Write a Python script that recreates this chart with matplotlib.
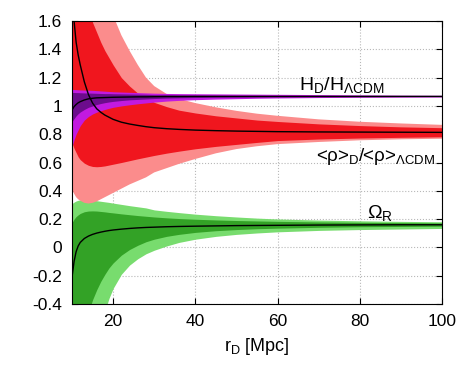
import numpy as np
import matplotlib
matplotlib.use('Agg')
from matplotlib import pyplot as plt
from matplotlib.ticker import FuncFormatter

plt.rcParams['font.family'] = ['Liberation Sans', 'DejaVu Sans']
plt.rcParams['mathtext.fontset'] = 'custom'
plt.rcParams['mathtext.rm'] = 'Liberation Sans'
plt.rcParams['mathtext.it'] = 'Liberation Sans:italic'
plt.rcParams['axes.unicode_minus'] = False

# domain size r_D [Mpc]
r = [10, 10.5, 11, 11.5, 12, 13, 14, 15, 16, 17, 18, 19, 20, 22, 24, 26, 28, 30,
     33, 36, 40, 45, 50, 55, 60, 70, 80, 90, 100]

# <rho>_D / <rho>_LCDM : median, 1 and 2 sigma
rho_mid = [1.85, 1.60, 1.45, 1.36, 1.29, 1.17, 1.08, 1.02, 0.98, 0.955, 0.935, 0.92, 0.905,
           0.885, 0.872, 0.862, 0.853, 0.846, 0.839, 0.834, 0.829, 0.825, 0.822, 0.82,
           0.818, 0.816, 0.815, 0.814, 0.813]
rho_hi1 = [2.6, 2.45, 2.3, 2.18, 2.06, 1.80, 1.68, 1.59, 1.52, 1.45, 1.39, 1.34, 1.29,
           1.20, 1.14, 1.09, 1.055, 1.025, 0.995, 0.97, 0.95, 0.93, 0.915, 0.90, 0.89,
           0.873, 0.861, 0.852, 0.846]
rho_lo1 = [0.74, 0.70, 0.67, 0.64, 0.62, 0.595, 0.58, 0.572, 0.57, 0.572, 0.576, 0.582,
           0.588, 0.60, 0.613, 0.626, 0.638, 0.65, 0.666, 0.68, 0.697, 0.714, 0.728,
           0.742, 0.755, 0.766, 0.773, 0.778, 0.782]
rho_hi2 = [3.6, 3.4, 3.2, 3.0, 2.85, 2.6, 2.4, 2.2, 2.05, 1.92, 1.82, 1.72, 1.64, 1.50,
           1.39, 1.29, 1.20, 1.14, 1.085, 1.05, 1.02, 0.99, 0.965, 0.945, 0.93, 0.905,
           0.888, 0.876, 0.866]
rho_lo2 = [0.41, 0.38, 0.355, 0.34, 0.33, 0.315, 0.31, 0.315, 0.325, 0.34, 0.355, 0.37,
           0.385, 0.415, 0.445, 0.47, 0.495, 0.53, 0.56, 0.59, 0.625, 0.665, 0.695,
           0.715, 0.73, 0.745, 0.757, 0.764, 0.768]

# H_D / H_LCDM
h_mid = [0.97, 0.995, 1.01, 1.022, 1.03, 1.042, 1.05, 1.054, 1.057, 1.058, 1.059, 1.06,
         1.061, 1.062, 1.063, 1.064, 1.064, 1.065, 1.066, 1.066, 1.067, 1.067, 1.067,
         1.067, 1.067, 1.067, 1.067, 1.067, 1.067]
h_hi1 = [1.095, 1.095, 1.094, 1.094, 1.093, 1.092, 1.091, 1.09, 1.089, 1.088, 1.087,
         1.087, 1.086, 1.085, 1.084, 1.083, 1.082, 1.08, 1.079, 1.078, 1.076, 1.075,
         1.074, 1.074, 1.073, 1.072, 1.072, 1.071, 1.071]
h_lo1 = [0.89, 0.91, 0.93, 0.945, 0.957, 0.975, 0.99, 1.0, 1.01, 1.017, 1.023, 1.028,
         1.032, 1.038, 1.043, 1.046, 1.049, 1.052, 1.055, 1.057, 1.059, 1.061, 1.062,
         1.063, 1.064, 1.065, 1.065, 1.066, 1.066]
h_hi2 = [1.117, 1.116, 1.115, 1.114, 1.113, 1.112, 1.111, 1.11, 1.108, 1.106, 1.104,
         1.102, 1.10, 1.098, 1.096, 1.094, 1.092, 1.09, 1.088, 1.087, 1.086, 1.085,
         1.084, 1.083, 1.082, 1.08, 1.078, 1.076, 1.075]
h_lo2 = [0.71, 0.76, 0.80, 0.83, 0.86, 0.90, 0.925, 0.943, 0.956, 0.966, 0.975, 0.983,
         0.99, 1.0, 1.008, 1.015, 1.021, 1.027, 1.034, 1.039, 1.044, 1.048, 1.051,
         1.054, 1.056, 1.059, 1.061, 1.062, 1.063]

# Omega_R
om_mid = [-0.21, -0.10, -0.03, 0.01, 0.035, 0.063, 0.08, 0.092, 0.101, 0.108, 0.114,
          0.119, 0.123, 0.129, 0.134, 0.138, 0.141, 0.143, 0.146, 0.148, 0.15, 0.152,
          0.154, 0.155, 0.156, 0.158, 0.159, 0.16, 0.16]
om_hi1 = [0.175, 0.20, 0.218, 0.23, 0.24, 0.252, 0.257, 0.258, 0.257, 0.254, 0.251,
          0.247, 0.244, 0.237, 0.231, 0.225, 0.22, 0.215, 0.209, 0.204, 0.199, 0.194,
          0.19, 0.187, 0.184, 0.18, 0.177, 0.175, 0.173]
om_lo1 = [-1.2, -1.1, -1.0, -0.9, -0.8, -0.6, -0.46, -0.37, -0.30, -0.24, -0.19, -0.145,
          -0.11, -0.055, -0.015, 0.015, 0.04, 0.058, 0.078, 0.092, 0.106, 0.118, 0.126,
          0.132, 0.136, 0.142, 0.146, 0.148, 0.15]
om_hi2 = [0.31, 0.32, 0.328, 0.333, 0.336, 0.338, 0.337, 0.334, 0.33, 0.326, 0.322,
          0.318, 0.313, 0.304, 0.295, 0.287, 0.279, 0.265, 0.255, 0.246, 0.235, 0.224,
          0.215, 0.207, 0.201, 0.193, 0.188, 0.184, 0.181]
om_lo2 = [-2.0, -1.9, -1.8, -1.7, -1.6, -1.4, -1.2, -1.0, -0.8, -0.6, -0.45, -0.36,
          -0.29, -0.19, -0.125, -0.08, -0.045, -0.02, 0.01, 0.035, 0.058, 0.078, 0.092,
          0.102, 0.11, 0.12, 0.126, 0.13, 0.134]

fig = plt.figure(figsize=(4.75, 3.82), dpi=100)
ax = fig.add_axes([0.1516, 0.2042, 0.7789, 0.7408])

ax.grid(True, color='#b8b8b8', linestyle=':', linewidth=0.8)
ax.set_axisbelow(True)

# Omega_R
ax.fill_between(r, om_lo2, om_hi2, color='#78dc6e', lw=0)
ax.fill_between(r, om_lo1, om_hi1, color='#33a226', lw=0)
# density ratio
ax.fill_between(r, rho_lo2, rho_hi2, color='#fb8c8c', lw=0)
ax.fill_between(r, rho_lo1, rho_hi1, color='#f0161e', lw=0)
# Hubble ratio
ax.fill_between(r, h_lo2, h_hi2, color='#c21ae0', lw=0)
ax.fill_between(r, h_lo1, h_hi1, color='#6c0c8c', lw=0)

ax.plot(r, om_mid, color='black', lw=1)
ax.plot(r, rho_mid, color='black', lw=1)
ax.plot(r, h_mid, color='black', lw=1)

ax.text(75.7, 1.148, r'H$_{\rm D}$/H$_{\Lambda\rm CDM}$', fontsize=14,
        ha='center', va='center')
ax.text(83.7, 0.64, r'<ρ>$_{\rm D}$/<ρ>$_{\Lambda\rm CDM}$', fontsize=13.5,
        ha='center', va='center')
ax.text(84.9, 0.243, r'$\Omega_{\rm R}$', fontsize=14, ha='center', va='center')

ax.set_xlim(10, 100)
ax.set_ylim(-0.4, 1.6)
ax.set_xticks([20, 40, 60, 80, 100])
ax.set_yticks(np.arange(-0.4, 1.61, 0.2))
ax.yaxis.set_major_formatter(FuncFormatter(lambda v, p: '%g' % round(v, 2)))
ax.tick_params(direction='in', top=True, right=True, length=4, labelsize=12.5,
               pad=7)
ax.set_xlabel(r'r$_{\rm D}$ [Mpc]', fontsize=13, labelpad=5)

plt.savefig('out.png', dpi=100)
